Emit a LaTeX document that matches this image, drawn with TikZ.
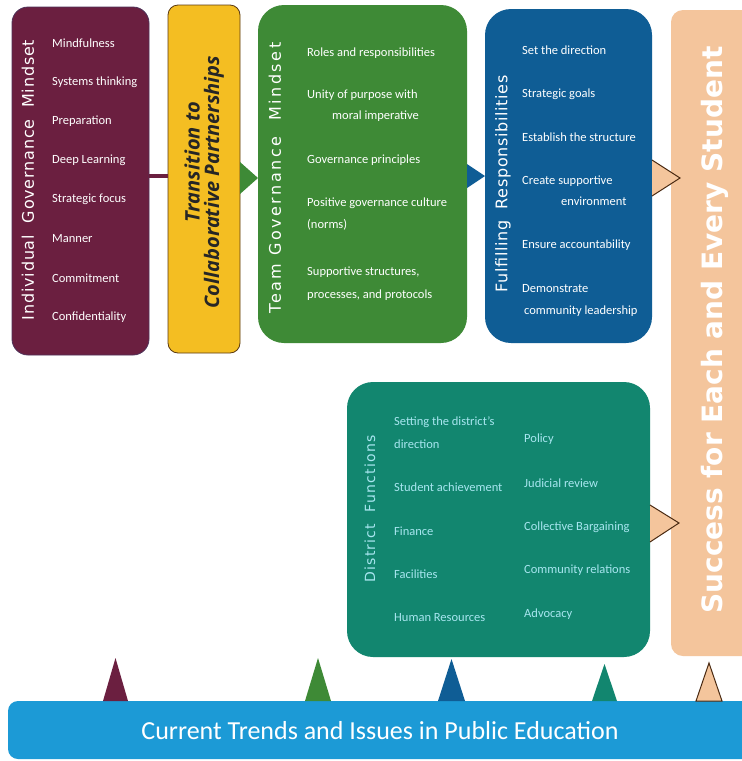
\documentclass[tikz,border=0pt]{standalone}
\usepackage{fontspec}
\setmainfont{Carlito}
\newfontfamily\titlefont{DejaVu Sans}
\newfontfamily\boldfont{Open Sans}
\definecolor{cmaroon}{HTML}{6B1F40}
\definecolor{cyellow}{HTML}{F4BE22}
\definecolor{cyelbd}{HTML}{5B3A12}
\definecolor{cgreen}{HTML}{3E8A36}
\definecolor{cblue}{HTML}{0F5D95}
\definecolor{cteal}{HTML}{12866F}
\definecolor{cpeach}{HTML}{F4C59C}
\definecolor{cpeachbd}{HTML}{4A2A12}
\definecolor{cbar}{HTML}{1C9AD6}
\definecolor{ccyan}{HTML}{A8E6F0}
\tikzset{
  box/.style={inner sep=0pt, outer sep=0pt},
  item/.style={anchor=west, inner sep=0pt, text=white, font=\fontsize{12.5}{14}\selectfont, align=left},
  ditem/.style={item, text=ccyan},
  vtitle/.style={rotate=90, inner sep=0pt, text=white},
  transtext/.style={rotate=90, inner sep=0pt, text=black!85, font=\boldfont\bfseries\itshape\fontsize{20}{24}\selectfont},
}
\begin{document}
\begin{tikzpicture}[x=1pt,y=-1pt]
\useasboundingbox (0,0) rectangle (742,761);
\fill[white] (0,0) rectangle (742,761);
\clip (0,0) rectangle (742,761);

% boxes
\node[box, fill=cmaroon, draw=cmaroon!70!cblue, line width=0.8pt, rounded corners=16pt, minimum width=137pt, minimum height=348pt] (ind) at (80.5,181) {};
\node[box, fill=cyellow, draw=cyelbd, line width=0.8pt, rounded corners=10pt, minimum width=72pt, minimum height=348pt] (trans) at (204,179) {};
\node[box, fill=cgreen, rounded corners=26pt, minimum width=209pt, minimum height=338pt] (team) at (362.5,174) {};
\node[box, fill=cblue, rounded corners=26pt, minimum width=167pt, minimum height=334pt] (ful) at (568.5,176) {};
\node[box, fill=cpeach, rounded corners=12pt, minimum width=100pt, minimum height=646pt] (succ) at (721,333) {};
\node[box, fill=cteal, rounded corners=26pt, minimum width=303pt, minimum height=275pt] (dist) at (498.5,519.5) {};
\node[box, fill=cbar, rounded corners=10pt, minimum width=760pt, minimum height=58pt] (bar) at (388,730) {};

% connector and arrow heads
\draw[cmaroon, line width=4.5pt] (ind.east |- 0,176) -- (trans.west |- 0,176);
\fill[cgreen] (trans.east |- 0,162) -- (team.west |- 0,178) -- (trans.east |- 0,194) -- cycle;
\fill[cblue] (team.east |- 0,164) -- (ful.west |- 0,176) -- (team.east |- 0,188) -- cycle;
\draw[cpeachbd, fill=cpeach, line width=1pt, line join=miter] (ful.east |- 0,160) -- (680,178) -- (ful.east |- 0,196);
\draw[cpeachbd, fill=cpeach, line width=1pt, line join=miter] (dist.east |- 0,505) -- (679,523) -- (dist.east |- 0,542);

% upward triangles on the bar
\fill[cmaroon] (103,701) -- (115.5,658) -- (128,701) -- cycle;
\fill[cgreen] (305,701) -- (318,658) -- (331,701) -- cycle;
\fill[cblue] (438,701) -- (451.5,659) -- (465,701) -- cycle;
\fill[cteal] (592,701) -- (604.5,664) -- (617,701) -- cycle;
\draw[cpeachbd, fill=cpeach, line width=1pt] (696,701) -- (709,663) -- (722,701) -- cycle;

% titles
\node[vtitle, font=\titlefont\addfontfeatures{LetterSpace=5}\fontsize{16}{18}\selectfont] (tind) at (28,180) {Individual\ \ Governance\ \ Mindset};
\node[transtext] (ttrans1) at (192,162) {Transition to};
\node[transtext] (ttrans2) at (214,182) {Collaborative Partnerships};
\node[vtitle, font=\titlefont\addfontfeatures{LetterSpace=16}\fontsize{16}{18}\selectfont] (tteam) at (275,178) {Team\ Governance\ \ Mindset};
\node[vtitle, font=\titlefont\addfontfeatures{LetterSpace=4}\fontsize{16}{18}\selectfont] (tful) at (503,184) {Fulfilling\ \ Responsibilities};
\node[vtitle, text=ccyan, font=\titlefont\addfontfeatures{LetterSpace=9}\fontsize{14}{16}\selectfont] (tdist) at (370,509) {District\ \ Functions};
\node[rotate=90, inner sep=0pt, text=white, font=\titlefont\bfseries\fontsize{28}{32}\selectfont] (tsucc) at (715,330) {Success for Each and Every Student};
\node[inner sep=0pt, text=white, font=\fontsize{26}{30}\selectfont] (tbar) at (380,731) {Current Trends and Issues in Public Education};

% individual items
\node[item] (i1) at (52,43) {Mindfulness};
\node[item] (i2) at (52,82) {Systems thinking};
\node[item] (i3) at (52,121) {Preparation};
\node[item] (i4) at (52,160) {Deep Learning};
\node[item] (i5) at (52,199) {Strategic focus};
\node[item] (i6) at (52,239) {Manner};
\node[item] (i7) at (52,278) {Commitment};
\node[item] (i8) at (52,317) {Confidentiality};

% team items
\node[item] (t1) at (307,53) {Roles and responsibilities};
\node[item] (t2a) at (307,95) {Unity of purpose with};
\node[item] (t2b) at (332,116) {moral imperative};
\node[item] (t3) at (307,160) {Governance principles};
\node[item] (t4a) at (307,203) {Positive governance culture};
\node[item] (t4b) at (307,225) {(norms)};
\node[item] (t5a) at (307,272) {Supportive structures,};
\node[item] (t5b) at (307,295) {processes, and protocols};

% fulfilling items
\node[item] (f1) at (522,50) {Set the direction};
\node[item] (f2) at (522,94) {Strategic goals};
\node[item] (f3) at (522,137) {Establish the structure};
\node[item] (f4a) at (522,181) {Create supportive};
\node[item] (f4b) at (561,201) {environment};
\node[item] (f5) at (522,245) {Ensure accountability};
\node[item] (f6a) at (522,289) {Demonstrate};
\node[item] (f6b) at (524,311) {community leadership};

% district items
\node[ditem] (d1a) at (394,422) {Setting the district's};
\node[ditem] (d1b) at (394,444) {direction};
\node[ditem] (d2) at (394,487) {Student achievement};
\node[ditem] (d3) at (394,531) {Finance};
\node[ditem] (d4) at (394,574) {Facilities};
\node[ditem] (d5) at (394,618) {Human Resources};
\node[ditem] (d6) at (524,439) {Policy};
\node[ditem] (d7) at (524,483) {Judicial review};
\node[ditem] (d8) at (524,527) {Collective Bargaining};
\node[ditem] (d9) at (524,570) {Community relations};
\node[ditem] (d10) at (524,614) {Advocacy};
\end{tikzpicture}
\end{document}
